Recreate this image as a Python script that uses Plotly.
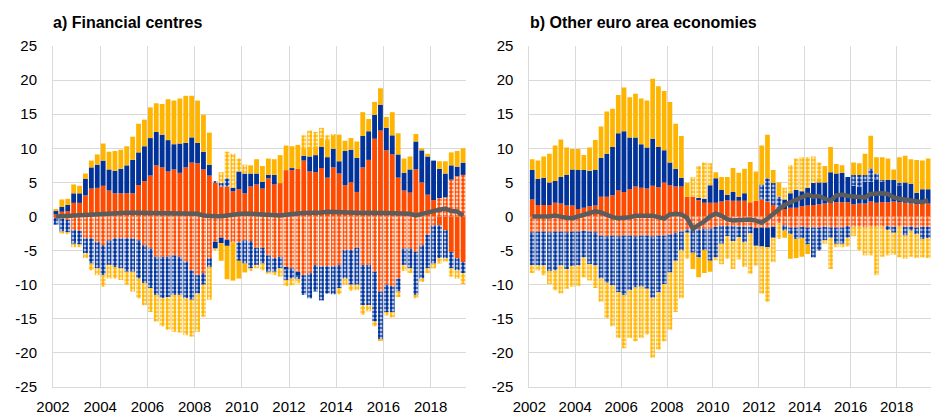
import plotly.graph_objects as go

# Quarterly periods 2002Q1 - 2019Q2
years = list(range(2002, 2020))
quarters = [f"{y}Q{q}" for y in years for q in range(1, 5)][:70]

# ---- a) Financial centres (percentage of GDP) ----
debt_assets_a = [0.3, 0.7, 0.8, 2.0, 2.0, 3.1, 4.1, 4.2, 4.5, 3.8,
                 3.4, 3.4, 3.4, 3.4, 4.6, 5.2, 6.0, 7.5, 7.2, 6.6,
                 6.9, 6.4, 7.2, 7.9, 7.8, 6.9, 6.0, 5.0, 4.4, 4.4,
                 3.7, 4.0, 3.4, 4.4, 4.7, 4.1, 5.6, 4.7, 4.9, 6.8,
                 6.8, 7.0, 8.2, 6.6, 6.5, 7.1, 5.7, 7.2, 6.3, 4.6,
                 5.0, 3.6, 7.2, 8.3, 11.4, 12.6, 9.7, 9.1, 5.7, 3.8,
                 3.5, 6.9, 5.0, 3.2, 2.4, -1.3, -2.0, -5.2, -6.1, -6.7]
debt_liab_a = [-0.2, -0.3, -0.5, -2.0, -2.1, -3.2, -3.2, -3.7, -4.2, -3.5,
               -3.2, -3.2, -3.2, -3.2, -3.5, -4.2, -4.7, -5.9, -5.9, -5.9,
               -5.7, -5.9, -6.6, -7.9, -8.6, -8.3, -6.1, -3.7, -3.1, -3.4,
               -3.8, -3.8, -3.5, -3.6, -4.6, -4.6, -5.7, -6.1, -5.9, -7.4,
               -7.6, -8.1, -8.6, -8.3, -7.1, -7.3, -7.3, -7.3, -7.1, -4.9,
               -4.9, -4.6, -7.1, -7.1, -8.1, -11.0, -10.0, -10.2, -9.1, -4.7,
               -4.7, -5.2, -4.2, -2.7, -1.3, 2.7, 2.8, 5.4, 5.9, 6.1]
equity_assets_a = [0.5, 0.7, 0.9, 1.4, 1.4, 2.4, 3.1, 3.4, 3.7, 3.1,
                   3.3, 3.6, 4.1, 4.9, 4.8, 5.1, 5.5, 4.9, 4.8, 4.6,
                   3.7, 4.3, 3.6, 3.7, 3.0, 2.6, 1.6, -1.0, -0.8, -0.9,
                   0.5, 2.6, 2.9, 1.9, 1.6, 1.0, 0.5, 1.4, 0.0, -0.4,
                   0.3, -0.6, 0.7, 2.2, 2.5, 3.1, 3.0, 2.7, 1.8, 5.0,
                   4.8, 5.0, 4.6, 4.2, 3.5, 3.8, 3.3, 2.8, 3.4, 2.6,
                   3.4, 4.1, 4.7, 5.6, 5.8, 4.3, 3.5, 2.1, 1.4, 1.8]
equity_liab_a = [-1.0, -1.9, -1.8, -2.0, -2.0, -2.2, -3.7, -3.9, -4.4, -3.6,
                 -4.2, -4.4, -4.9, -4.9, -5.6, -5.6, -5.8, -5.6, -6.1, -5.9,
                 -5.8, -5.6, -5.4, -4.3, -2.7, -1.7, -1.3, 0.2, 0.5, 1.2,
                 0.0, -2.7, -3.4, -4.0, -2.5, -2.3, -2.4, -2.0, -1.7, -1.5,
                 -1.5, -0.5, -2.9, -3.7, -3.9, -5.0, -4.0, -4.1, -3.4, -4.2,
                 -5.1, -5.4, -5.9, -5.9, -7.3, -7.0, -4.0, -3.8, -1.9, -2.4,
                 -2.9, -6.3, -4.9, -4.9, -5.6, -4.8, -4.1, -2.4, -1.8, -1.6]
other_assets_a = [0.3, 1.1, 0.9, 1.3, 1.1, 0.8, 1.0, 1.5, 2.5, 2.6,
                  2.9, 2.8, 2.8, 3.4, 4.2, 3.9, 4.5, 4.2, 4.5, 6.0,
                  6.4, 6.6, 6.9, 6.1, 6.2, 5.4, 4.7, 0.0, -2.6, -4.9,
                  -5.6, -2.6, -1.3, 1.2, 2.1, 2.3, 2.4, 2.3, 4.1, 3.6,
                  3.2, 3.5, 1.0, 1.4, 1.3, 1.3, 2.5, 1.9, 3.9, 1.5,
                  1.7, 2.4, 3.5, 1.8, 1.9, 2.4, 1.6, 3.4, 3.1, 2.1,
                  1.9, 1.1, 0.3, 0.4, 0.0, 1.1, 1.8, 1.9, 2.3, 2.1]
other_liab_a = [0.0, -0.3, -0.3, -0.5, -0.4, -0.7, -1.0, -1.0, -1.7, -2.0,
                -1.7, -1.7, -1.9, -2.9, -2.9, -3.2, -3.5, -3.9, -4.1, -4.8,
                -5.4, -5.5, -5.4, -5.4, -5.6, -4.7, -4.8, -0.3, 1.6, 3.9,
                5.0, 1.9, 1.3, -0.4, -0.5, -1.0, -0.3, -0.5, -1.2, -0.9,
                -1.0, -0.6, 2.0, 2.4, 2.1, 1.5, 0.7, 0.3, -0.9, -0.9,
                -0.9, -0.8, -1.4, -0.9, -0.7, -0.2, -0.5, -0.8, -0.8, -0.9,
                -0.7, -0.5, -0.5, -0.7, -0.7, -0.8, -0.5, -1.2, -1.2, -1.6]
net_a = [0.0, 0.05, 0.1, 0.2, 0.3, 0.35, 0.4, 0.45, 0.5, 0.55,
         0.55, 0.55, 0.55, 0.55, 0.55, 0.5, 0.55, 0.55, 0.55, 0.5,
         0.55, 0.55, 0.55, 0.5, 0.4, 0.15, 0.05, 0.05, 0.05, 0.1,
         0.2, 0.35, 0.45, 0.4, 0.35, 0.3, 0.2, 0.15, 0.15, 0.25,
         0.4, 0.45, 0.5, 0.5, 0.55, 0.6, 0.7, 0.65, 0.6, 0.55,
         0.5, 0.55, 0.5, 0.55, 0.45, 0.5, 0.5, 0.45, 0.45, 0.4,
         0.4, 0.15, 0.4, 0.6, 0.75, 1.0, 1.15, 0.8, 0.75, 0.1]

# ---- b) Other euro area economies ----
debt_assets_b = [2.5, 1.7, 1.7, 1.7, 2.0, 1.9, 1.6, 1.6, 1.1, 1.3,
                 1.5, 1.6, 2.9, 2.9, 3.1, 3.8, 3.6, 4.0, 4.4, 4.2,
                 4.1, 4.5, 4.3, 5.0, 4.6, 4.4, 4.4, 2.9, 2.9, 2.4,
                 2.0, 2.0, 2.0, 2.2, 2.4, 2.3, 2.3, 2.3, 2.1, 2.3,
                 2.5, 2.2, 1.7, 1.0, 1.1, 1.3, 1.3, 1.5, 1.6, 1.7,
                 1.8, 1.9, 2.0, 2.1, 2.1, 2.1, 1.8, 1.9, 1.9, 2.2,
                 2.0, 2.1, 2.1, 2.2, 2.1, 2.0, 1.9, 1.8, 1.9, 1.9]
debt_liab_b = [-2.3, -2.2, -2.2, -2.3, -2.2, -2.2, -2.3, -2.2, -2.2, -2.1,
               -2.2, -2.3, -2.8, -2.9, -2.8, -2.9, -2.8, -2.8, -2.9, -2.8,
               -2.8, -2.9, -2.8, -2.8, -2.6, -2.4, -2.2, -1.9, -1.9, -1.9,
               -1.8, -1.8, -1.5, -1.4, -1.4, -1.4, -1.5, -1.5, -1.5, -1.7,
               -1.6, -1.6, -1.5, -1.0, -1.3, -1.6, -1.6, -1.5, -1.6, -1.6,
               -1.6, -1.5, -1.6, -1.6, -1.6, -1.4, -1.5, -1.5, -1.6, -1.5,
               -1.5, -1.5, -1.4, -1.5, -1.5, -1.5, -1.5, -1.6, -1.5, -1.5]
equity_assets_b = [4.3, 3.8, 4.0, 3.3, 3.2, 3.9, 4.5, 5.3, 5.7, 5.5,
                   5.2, 5.2, 5.7, 6.3, 7.1, 8.4, 8.9, 7.6, 7.2, 6.4,
                   6.0, 6.9, 5.9, 4.7, 3.3, 2.6, 1.3, 0.0, 0.0, 0.3,
                   0.6, 2.6, 3.6, 1.7, 0.8, 1.3, 0.6, 1.1, 0.0, -2.6,
                   -2.8, -2.9, -1.6, 0.0, 1.4, 2.1, 2.6, 2.2, 2.6, 3.2,
                   3.2, 3.1, 4.5, 4.2, 4.3, 3.7, 2.7, 2.5, 3.2, 2.9,
                   3.4, 3.0, 3.3, 3.2, 2.5, 3.0, 2.9, 1.7, 2.1, 2.1]
equity_liab_b = [-4.8, -5.0, -5.0, -5.7, -5.7, -5.0, -5.4, -5.1, -5.0, -3.9,
                 -4.8, -4.9, -6.3, -6.8, -7.3, -8.2, -8.7, -8.0, -7.5, -7.5,
                 -7.8, -9.0, -8.3, -7.1, -5.6, -4.1, -2.8, -0.5, -3.4, -4.1,
                 -3.1, -4.7, -4.5, -2.6, -1.5, -2.2, -1.5, -2.3, -1.0, 0.0,
                 2.2, 3.4, 3.2, 1.9, -0.8, -1.0, -1.7, -1.7, -2.5, -4.4,
                 -3.4, -2.0, -1.5, -2.4, -2.4, -1.7, 1.6, 1.7, 1.0, 1.95,
                 0.9, 0.2, -0.6, -0.9, 0.4, -1.3, -0.6, -1.0, -1.8, -1.7]
other_assets_b = [1.6, 2.7, 3.1, 4.2, 5.2, 5.5, 4.0, 3.0, 3.1, 2.2,
                  3.4, 4.4, 4.6, 6.2, 5.6, 5.6, 6.4, 5.9, 6.4, 6.7,
                  6.9, 8.8, 8.9, 8.7, 8.9, 6.6, 6.1, 2.0, -2.4, -2.9,
                  -3.4, -1.6, 0.9, 1.9, 2.6, 3.5, 3.5, 3.6, 5.9, 4.3,
                  5.7, 6.4, 1.9, 2.1, -1.0, -3.6, -2.8, -2.7, -1.4, 0.0,
                  0.6, 2.4, 3.7, 1.4, 1.1, 0.0, 1.8, 1.7, 3.1, 4.8,
                  2.4, 3.4, 3.1, 1.5, 3.7, 3.9, 3.6, 4.8, 4.2, 4.5]
other_liab_b = [-1.2, -0.7, -1.4, -1.9, -2.9, -4.1, -2.9, -3.0, -3.0, -2.9,
                -2.4, -3.3, -3.4, -5.2, -6.0, -6.7, -7.8, -7.0, -7.9, -7.5,
                -6.7, -8.8, -8.4, -8.4, -8.4, -7.5, -7.0, -3.8, 2.9, 4.7,
                5.3, 3.2, -0.4, -3.0, -3.3, -4.1, -3.3, -3.6, -5.9, -2.9,
                -6.9, -8.0, -3.6, -2.3, 1.7, 4.1, 4.6, 5.0, 4.5, 3.9,
                2.3, -0.5, -4.6, -0.5, -0.5, -1.3, -1.4, -3.5, -4.1, -4.2,
                -7.1, -4.4, -3.7, -3.2, -4.5, -3.4, -3.8, -3.5, -2.7, -2.9]
net_b = [0.0, -0.05, -0.05, 0.0, 0.15, -0.1, -0.2, -0.25, 0.0, 0.3,
         0.6, 0.75, 0.6, 0.2, -0.1, -0.25, -0.2, -0.1, 0.1, 0.1,
         0.0, 0.1, -0.1, -0.3, 0.3, 0.4, 0.3, -0.2, -1.8, -1.3,
         -0.7, 0.0, 0.45, 0.1, -0.4, -0.6, -0.5, -0.5, -0.45, -0.6,
         -0.9, -0.3, 0.4, 1.1, 1.7, 2.1, 2.5, 2.8, 3.2, 2.9,
         3.0, 2.6, 2.3, 3.1, 3.2, 3.0, 2.9, 2.9, 2.8, 3.3,
         3.4, 3.4, 3.3, 2.8, 2.6, 2.5, 2.4, 2.3, 2.1, 2.4]

y_ticks = [-25, -20, -15, -10, -5, 0, 5, 10, 15, 20, 25]
y_tick_labels = ["-25", "-20", "-15", "-10", "-5", "0", "5", "10", "15", "20", "25"]
x_ticks = [2002, 2004, 2006, 2008, 2010, 2012, 2014, 2016, 2018]
x_tick_labels = [str(v) for v in x_ticks]

ORANGE = "#ff4b00"
BLUE = "#003299"
YELLOW = "#ffb400"
GREY = "#5c5c5c"
FONT = "Liberation Sans, Arial, sans-serif"

# quarter label -> numeric position at the middle of the quarter
x_pos = [int(p[:4]) + (int(p[-1]) - 1) * 0.25 + 0.125 for p in quarters]

fig = go.Figure()


def add_panel(xa, ya, series, net):
    for values, colour, dotted in series:
        marker = dict(color=colour, line=dict(width=0))
        if dotted:
            marker["pattern"] = dict(shape=".", fgcolor=colour, bgcolor="white",
                                     size=4, solidity=0.7, fillmode="replace")
        fig.add_trace(go.Bar(x=x_pos, y=values, marker=marker, xaxis=xa, yaxis=ya,
                             showlegend=False, hoverinfo="skip"))
    fig.add_trace(go.Scatter(x=x_pos, y=net, mode="lines", xaxis=xa, yaxis=ya,
                             line=dict(color=GREY, width=4.5), showlegend=False,
                             hoverinfo="skip"))


add_panel("x", "y", [
    (debt_assets_a, ORANGE, False), (debt_liab_a, ORANGE, True),
    (equity_assets_a, BLUE, False), (equity_liab_a, BLUE, True),
    (other_assets_a, YELLOW, False), (other_liab_a, YELLOW, True),
], net_a)
add_panel("x2", "y2", [
    (debt_assets_b, ORANGE, False), (debt_liab_b, ORANGE, True),
    (equity_assets_b, BLUE, False), (equity_liab_b, BLUE, True),
    (other_assets_b, YELLOW, False), (other_liab_b, YELLOW, True),
], net_b)

GRID = "#d9d9d9"
xaxis_style = dict(range=[2002, 2019.5], tickvals=x_ticks, ticktext=x_tick_labels,
                   showgrid=True, gridcolor=GRID, gridwidth=1, zeroline=False,
                   showline=True, linecolor=GRID, linewidth=1, ticks="",
                   ticklabelstandoff=6,
                   tickfont=dict(family=FONT, size=15, color="#000000"))
yaxis_style = dict(range=[-25, 25], tickvals=y_ticks, ticktext=y_tick_labels,
                   showgrid=True, gridcolor=GRID, gridwidth=1, zeroline=False,
                   showline=True, linecolor=GRID, linewidth=1, ticks="",
                   ticklabelstandoff=12,
                   tickfont=dict(family=FONT, size=15, color="#000000"))

fig.update_layout(
    width=931, height=415,
    margin=dict(l=53, r=0, t=46, b=26),
    paper_bgcolor="white", plot_bgcolor="white",
    barmode="relative", bargap=0.18,
    xaxis=dict(domain=[0, 0.4704], anchor="y", **xaxis_style),
    yaxis=dict(domain=[0, 1], anchor="x", **yaxis_style),
    xaxis2=dict(domain=[0.5425, 1], anchor="y2", **xaxis_style),
    yaxis2=dict(domain=[0, 1], anchor="x2", **yaxis_style),
    annotations=[
        dict(text="<b>a) Financial centres</b>", xref="paper", yref="paper",
             x=-0.002, y=1.07, xanchor="left", yanchor="middle", showarrow=False,
             font=dict(family=FONT, size=16, color="#000000")),
        dict(text="<b>b) Other euro area economies</b>", xref="paper", yref="paper",
             x=0.541, y=1.07, xanchor="left", yanchor="middle", showarrow=False,
             font=dict(family=FONT, size=16, color="#000000")),
    ],
)

fig.write_html("out.html")
